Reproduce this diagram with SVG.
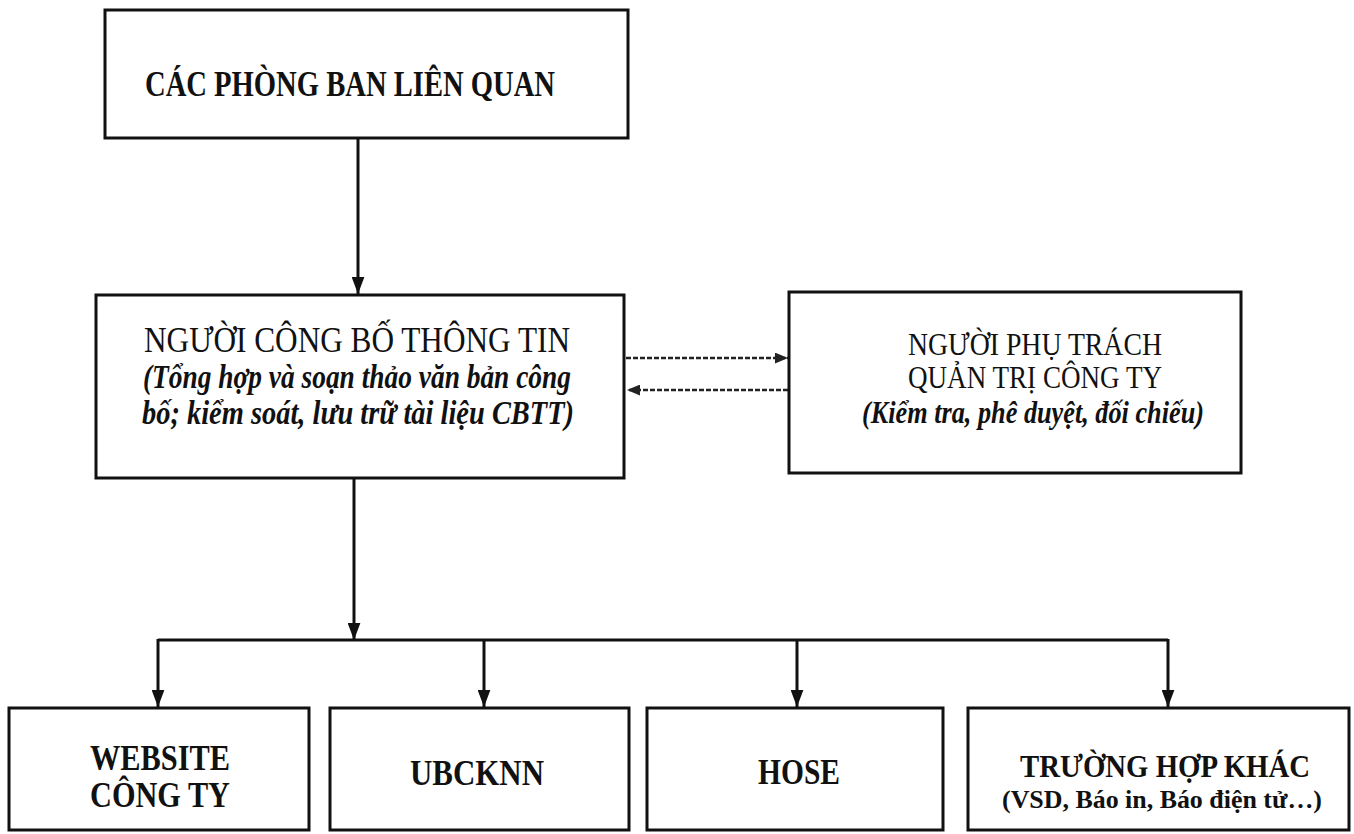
<svg xmlns="http://www.w3.org/2000/svg" width="1354" height="834" viewBox="0 0 1354 834">
<style>
.box{fill:#fff;stroke:#111;stroke-width:3}
.t{font-family:"Liberation Serif","Times New Roman",serif;fill:#111;text-anchor:middle}
.b{font-weight:bold}
.bi{font-weight:bold;font-style:italic}
.ln{stroke:#111;stroke-width:3;fill:none}
.dl{stroke:#222;stroke-width:2.5;fill:none;stroke-dasharray:5 2}
</style>
<defs>
<marker id="ah" viewBox="0 0 16 12" refX="16" refY="6" markerWidth="17" markerHeight="13" markerUnits="userSpaceOnUse" orient="auto">
<path d="M0,0 L16,6 L0,12 z" fill="#111"/>
</marker>
<marker id="ahd" viewBox="0 0 12 10" refX="12" refY="5" markerWidth="13" markerHeight="11" markerUnits="userSpaceOnUse" orient="auto">
<path d="M0,0 L12,5 L0,10 z" fill="#222"/>
</marker>
</defs>
<rect width="1354" height="834" fill="#fff"/>
<g id="connectors">
<line class="ln" x1="358" y1="138" x2="358" y2="294" marker-end="url(#ah)"/>
<line class="ln" x1="354" y1="478" x2="354" y2="640" marker-end="url(#ah)"/>
<line class="ln" x1="158" y1="640" x2="1168" y2="640"/>
<line class="ln" x1="158" y1="639" x2="158" y2="707" marker-end="url(#ah)"/>
<line class="ln" x1="484" y1="639" x2="484" y2="707" marker-end="url(#ah)"/>
<line class="ln" x1="797" y1="639" x2="797" y2="707" marker-end="url(#ah)"/>
<line class="ln" x1="1168" y1="639" x2="1168" y2="707" marker-end="url(#ah)"/>
<line class="dl" x1="626" y1="358" x2="788" y2="358" marker-end="url(#ahd)"/>
<line class="dl" x1="788" y1="390" x2="627" y2="390" marker-end="url(#ahd)"/>
</g>
<g id="n-phongban">
<rect class="box" x="105" y="10" width="523" height="128"/>
<text class="t b" x="350" y="96" font-size="36" textLength="410" lengthAdjust="spacingAndGlyphs">CÁC PHÒNG BAN LIÊN QUAN</text>
</g>
<g id="n-nguoicbtt">
<rect class="box" x="96" y="295" width="528" height="183"/>
<text class="t" x="357" y="352" font-size="35" textLength="426" lengthAdjust="spacingAndGlyphs">NGƯỜI CÔNG BỐ THÔNG TIN</text>
<text class="t bi" x="357" y="388" font-size="34" textLength="428" lengthAdjust="spacingAndGlyphs">(Tổng hợp và soạn thảo văn bản công</text>
<text class="t bi" x="358" y="424" font-size="34" textLength="432" lengthAdjust="spacingAndGlyphs">bố; kiểm soát, lưu trữ tài liệu CBTT)</text>
</g>
<g id="n-quantri">
<rect class="box" x="789" y="292" width="452" height="181"/>
<text class="t" x="1035" y="355" font-size="32" textLength="254" lengthAdjust="spacingAndGlyphs">NGƯỜI PHỤ TRÁCH</text>
<text class="t" x="1035" y="388" font-size="32" textLength="254" lengthAdjust="spacingAndGlyphs">QUẢN TRỊ CÔNG TY</text>
<text class="t bi" x="1033" y="423" font-size="31" textLength="342" lengthAdjust="spacingAndGlyphs">(Kiểm tra, phê duyệt, đối chiếu)</text>
</g>
<g id="n-website">
<rect class="box" x="9" y="708" width="300" height="122"/>
<text class="t b" x="160" y="770" font-size="35" textLength="140" lengthAdjust="spacingAndGlyphs">WEBSITE</text>
<text class="t b" x="160" y="807" font-size="35" textLength="140" lengthAdjust="spacingAndGlyphs">CÔNG TY</text>
</g>
<g id="n-ubcknn">
<rect class="box" x="330" y="708" width="299" height="122"/>
<text class="t b" x="477" y="785" font-size="35" textLength="134" lengthAdjust="spacingAndGlyphs">UBCKNN</text>
</g>
<g id="n-hose">
<rect class="box" x="647" y="708" width="296" height="122"/>
<text class="t b" x="799" y="784" font-size="35" textLength="82" lengthAdjust="spacingAndGlyphs">HOSE</text>
</g>
<g id="n-khac">
<rect class="box" x="968" y="708" width="381" height="122"/>
<text class="t b" x="1165" y="777" font-size="32" textLength="290" lengthAdjust="spacingAndGlyphs">TRƯỜNG HỢP KHÁC</text>
<text class="t b" x="1162" y="808" font-size="26" textLength="320" lengthAdjust="spacingAndGlyphs">(VSD, Báo in, Báo điện tử…)</text>
</g>
</svg>
